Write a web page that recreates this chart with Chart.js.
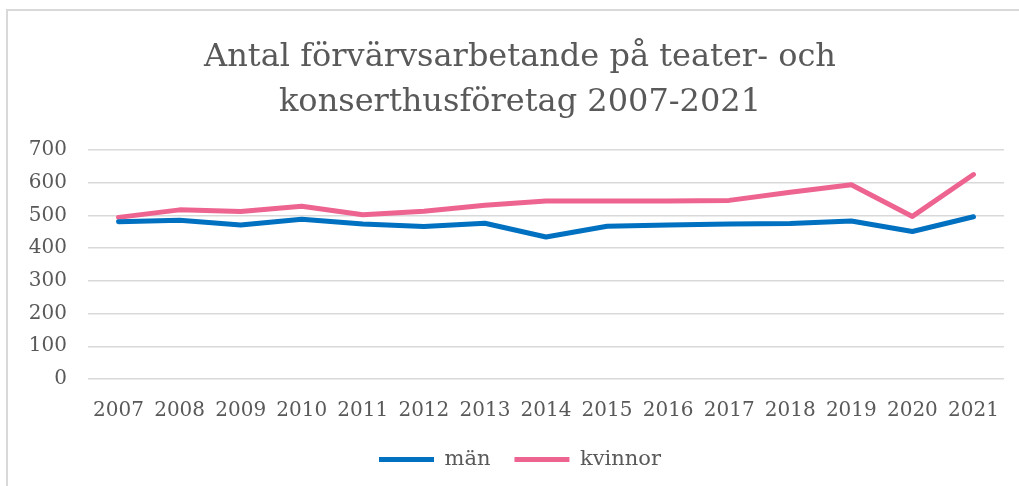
<!DOCTYPE html>
<html lang="sv">
<head>
<meta charset="utf-8">
<script src="https://cdn.jsdelivr.net/npm/chart.js@4/dist/chart.umd.min.js"></script>
<style>
  html, body { margin: 0; padding: 0; background: #fff; overflow: hidden; width: 1019px; height: 486px; }
  #frame { position: absolute; left: 6px; top: 9px; width: 1030px; height: 500px; border: 2px solid #d9d9d9; box-sizing: border-box; }
  #wrap { position: absolute; left: 7px; top: 10px; width: 1026px; height: 490px; }
</style>
</head>
<body>
<div id="frame"></div>
<div id="wrap"><canvas id="chart"></canvas></div>
<script>
const years = ['2007', '2008', '2009', '2010', '2011', '2012', '2013', '2014',
               '2015', '2016', '2017', '2018', '2019', '2020', '2021'];
const man = [481, 485, 471, 488, 474, 466, 476, 434, 467, 471, 474, 475, 483, 451, 496];
const kvinnor = [494, 517, 512, 528, 502, 513, 531, 544, 544, 544, 546, 571, 594, 497, 625];
const titleLines = ['Antal förvärvsarbetande på teater- och', 'konserthusföretag 2007-2021'];

const textColor = '#595959';
const serif = "'DejaVu Serif', Georgia, serif";

const data = {
    labels: years,
    datasets: [
        {
            label: 'män',
            data: man,
            borderColor: '#0070C0',
            backgroundColor: '#0070C0',
            borderWidth: 5,
            borderCapStyle: 'round',
            borderJoinStyle: 'round',
            pointRadius: 0,
            tension: 0,
        },
        {
            label: 'kvinnor',
            data: kvinnor,
            borderColor: '#EE6490',
            backgroundColor: '#EE6490',
            borderWidth: 5,
            borderCapStyle: 'round',
            borderJoinStyle: 'round',
            pointRadius: 0,
            tension: 0,
        },
    ],
};

const config = {
    type: 'line',
    data,
    options: {
        responsive: true,
        maintainAspectRatio: false,
        animation: false,
        layout: { padding: { left: 0, right: 0, top: 0, bottom: 20 } },
        scales: {
            x: {
                offset: true,
                afterFit: (scale) => { scale.height = 46; },
                grid: { display: false },
                border: { display: false },
                ticks: {
                    color: textColor,
                    font: { family: serif, size: 20 },
                    padding: 12,
                    maxRotation: 0,
                    autoSkip: false,
                },
            },
            y: {
                min: 0,
                max: 700,
                afterFit: (scale) => { scale.width = 81; },
                grid: { color: '#d9d9d9', lineWidth: 1.5, drawTicks: false },
                border: { display: false },
                ticks: {
                    stepSize: 100,
                    color: textColor,
                    font: { family: serif, size: 20 },
                    padding: 21,
                },
            },
            // empty right margin so the title and legend stay centred on the whole box
            yRight: {
                position: 'right',
                min: 0,
                max: 700,
                afterFit: (scale) => { scale.width = 29; },
                grid: { display: false },
                border: { display: false },
                ticks: { display: false },
            },
        },
        plugins: {
            title: {
                display: true,
                text: titleLines,
                color: textColor,
                font: { family: serif, size: 32, weight: 'normal', lineHeight: 1.40625 },
                padding: { top: 25, bottom: 25 },
            },
            legend: {
                position: 'bottom',
                labels: {
                    color: textColor,
                    font: { family: serif, size: 21 },
                    usePointStyle: true,
                    pointStyle: 'line',
                    pointStyleWidth: 55,
                    boxHeight: 4,
                    padding: 24,
                },
            },
            tooltip: { enabled: false },
        },
    },
};

new Chart(document.getElementById('chart'), config);
</script>
</body>
</html>
